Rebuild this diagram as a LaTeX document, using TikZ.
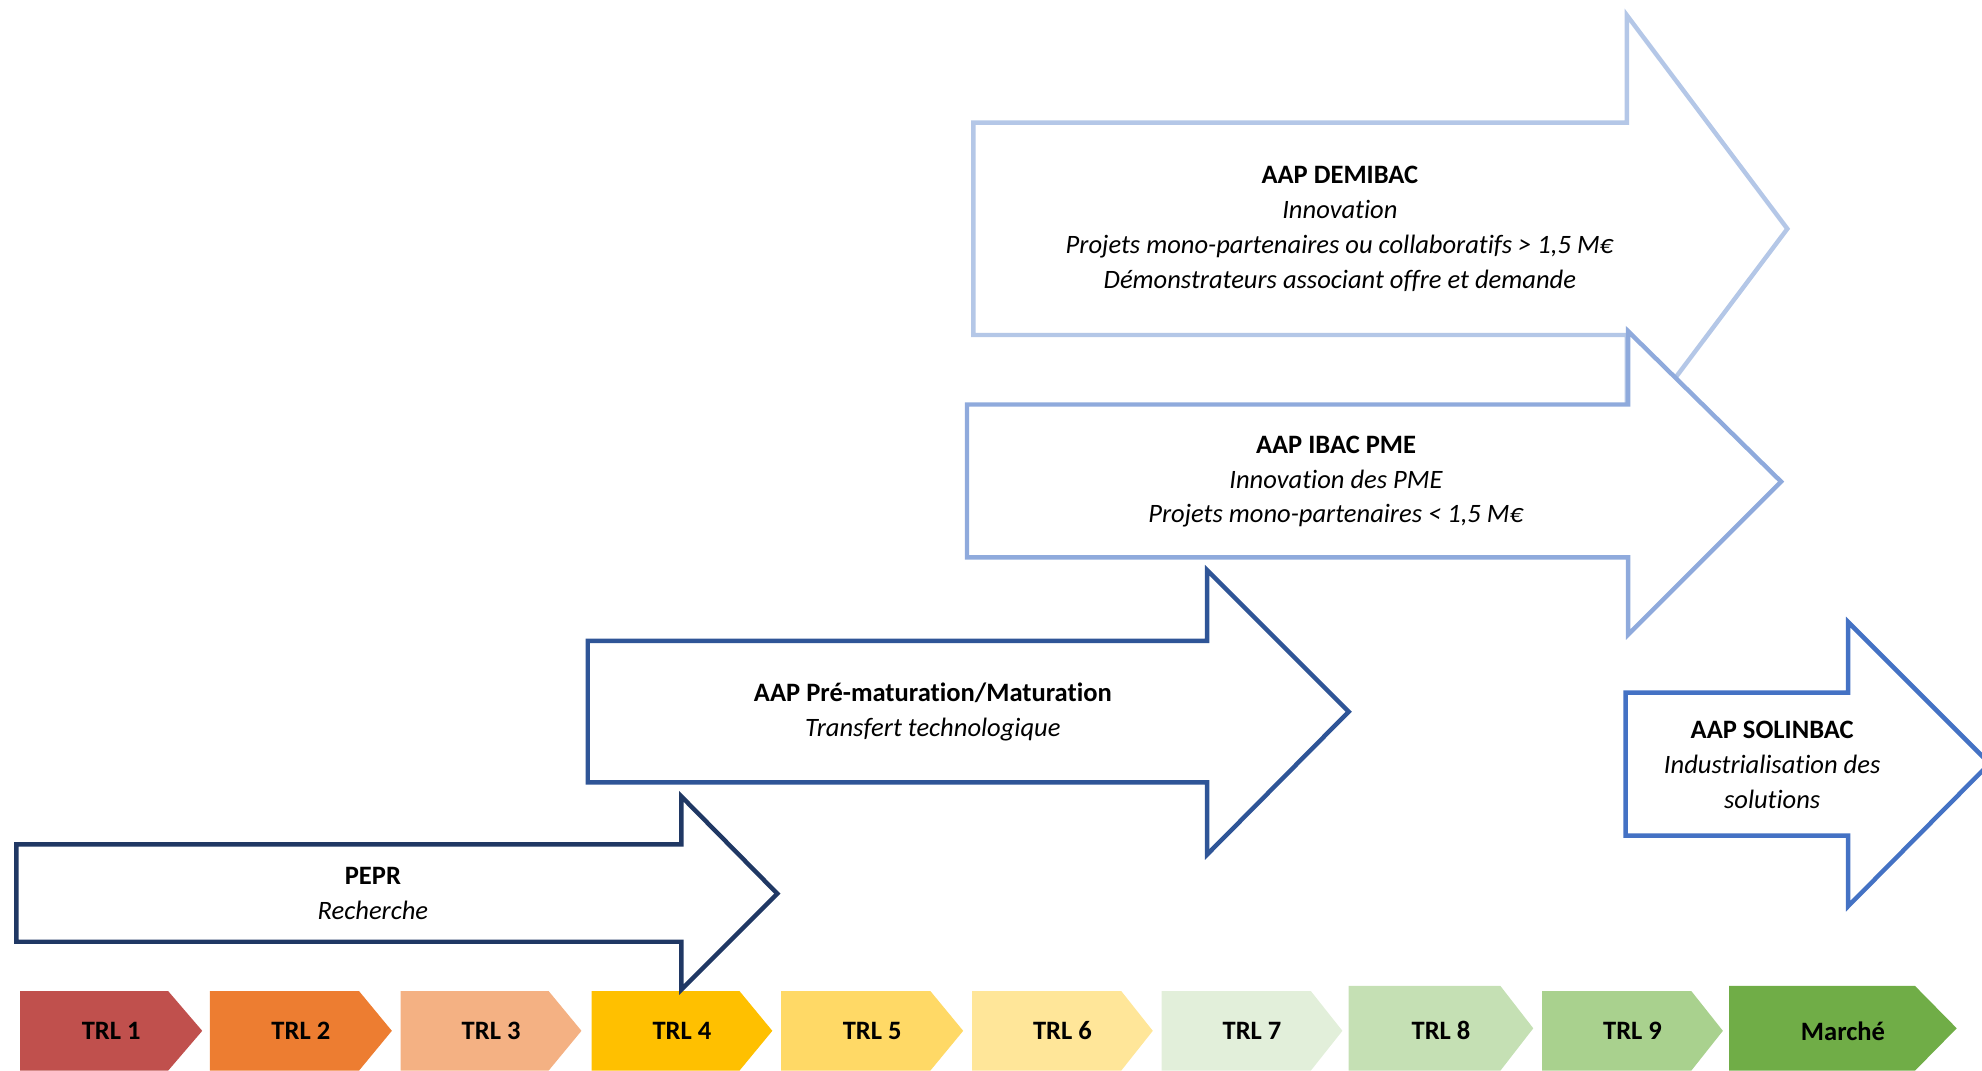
\documentclass[tikz,border=0pt]{standalone}
\usepackage{fontspec}
\setmainfont{Carlito}[Ligatures={NoCommon}]
\definecolor{c1}{HTML}{C0504D}
\definecolor{c2}{HTML}{ED7D31}
\definecolor{c3}{HTML}{F4B183}
\definecolor{c4}{HTML}{FFC000}
\definecolor{c5}{HTML}{FFD966}
\definecolor{c6}{HTML}{FFE699}
\definecolor{c7}{HTML}{E2EFDA}
\definecolor{c8}{HTML}{C5E0B4}
\definecolor{c9}{HTML}{A9D18E}
\definecolor{c10}{HTML}{70AD47}
\definecolor{apepr}{HTML}{203864}
\definecolor{amat}{HTML}{2F5597}
\definecolor{aibac}{HTML}{8FAADC}
\definecolor{ademi}{HTML}{B4C7E7}
\definecolor{asolin}{HTML}{4472C4}
\tikzset{
  bigarrow/.style={line width=3.5pt, fill=white, line join=miter, draw=#1},
  txt/.style={align=center, inner sep=0pt, font=\fontsize{21}{27.5}\selectfont},
  trl/.style={inner sep=0pt, font=\fontsize{21}{24}\selectfont\bfseries},
}
\begin{document}
\begin{tikzpicture}[x=1pt,y=-1pt]
\useasboundingbox (0,0) rectangle (1568,847);
\clip (0,0) rectangle (1568,847);
% chevrons
\foreach \l/\b/\t/\top/\c/\lab [count=\i] in {
  16/133/160/784/c1/TRL 1,
  166/284/310/784/c2/TRL 2,
  317/434/460/784/c3/TRL 3,
  468/585/611/784/c4/TRL 4,
  618/736/762/784/c5/TRL 5,
  769/887/912/784/c6/TRL 6,
  919/1037/1062/784/c7/TRL 7,
  1067/1187/1213/780/c8/TRL 8,
  1220/1338/1363/784/c9/TRL 9,
  1368/1515/1548/780/c10/Marché}{
  \fill[\c] (\l,\top) -- (\b,\top) -- (\t,{(\top+847)/2}) -- (\b,847) -- (\l,847) -- cycle;
  \node[trl] (trl\i) at ({(\l+\t)/2},815.5) {\lab};
}
% DEMIBAC
\draw[bigarrow=ademi] (770,97) -- (1287,97) -- (1287,12) -- (1414,181) -- (1287,350) -- (1287,265) -- (770,265) -- cycle;
% IBAC PME
\draw[bigarrow=aibac] (765,320) -- (1288,320) -- (1288,262) -- (1409,381) -- (1288,502) -- (1288,441) -- (765,441) -- cycle;
% Pre-maturation
\draw[bigarrow=amat] (465,507) -- (955,507) -- (955,451) -- (1067,563) -- (955,676) -- (955,619) -- (465,619) -- cycle;
% PEPR
\draw[bigarrow=apepr] (13,668) -- (539,668) -- (539,630) -- (615,707) -- (539,783) -- (539,745) -- (13,745) -- cycle;
% SOLINBAC
\draw[bigarrow=asolin] (1286,548) -- (1462,548) -- (1462,492) -- (1574,604) -- (1462,717) -- (1462,661) -- (1286,661) -- cycle;
% texts
\node[txt] (demi) at (1060,181) {\textbf{AAP DEMIBAC}\\ \textit{Innovation}\\ \textit{Projets mono-partenaires ou collaboratifs > 1,5 M€}\\ \textit{Démonstrateurs associant offre et demande}};
\node[txt] (ibac) at (1057,381) {\textbf{AAP IBAC PME}\\ \textit{Innovation des PME}\\ \textit{Projets mono-partenaires < 1,5 M€}};
\node[txt] (mat) at (738,563) {\textbf{AAP Pré-maturation/Maturation}\\ \textit{Transfert technologique}};
\node[txt] (pepr) at (295,707) {\textbf{PEPR}\\ \textit{Recherche}};
\node[txt] (solin) at (1402,605) {\textbf{AAP SOLINBAC}\\ \textit{Industrialisation des}\\ \textit{solutions}};
\end{tikzpicture}
\end{document}
